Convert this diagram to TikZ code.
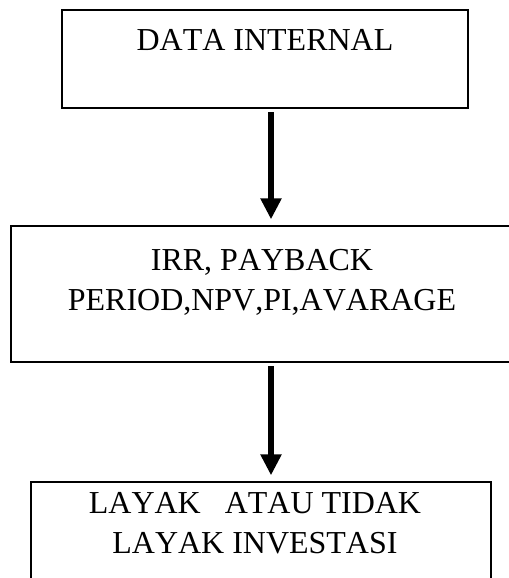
\documentclass[tikz,border=0pt]{standalone}
\usepackage{fontspec}
\setmainfont[Kerning=Off]{Liberation Serif}
\usetikzlibrary{arrows.meta}
\tikzset{
	kotak/.style={draw,line width=1.1pt,inner sep=0pt,outer sep=0pt,anchor=north west},
	tulisan/.style={font=\fontsize{27.3}{34.1}\selectfont,align=center,inner sep=0pt,anchor=north},
	panah/.style={line width=5.4pt,-{Triangle[length=0.63cm,width=0.6cm]},shorten <=0.13cm,shorten >=0.2cm}
}
\begin{document}
\begin{tikzpicture}[x=0.03cm,y=-0.03cm]
	\useasboundingbox (0,0) rectangle (509,578);
	\clip (0,0) rectangle (509,578);
	\node[kotak,minimum width=12.18cm,minimum height=2.94cm] (data) at (62,10) {};
	\node[kotak,minimum width=15.06cm,minimum height=4.08cm] (hitung) at (11,226) {};
	\node[kotak,minimum width=13.8cm,minimum height=4.08cm] (hasil) at (31,482) {};
	\node[tulisan] (tdata) at (265,29) {DATA INTERNAL};
	\node[tulisan] (thitung) at (262,249) {IRR, PAYBACK\\PERIOD,NPV,PI,AVARAGE};
	\node[tulisan] (thasil) at (255,492) {LAYAK\ \ \ ATAU TIDAK\\LAYAK INVESTASI};
	\coordinate (sumbu) at (271,0);
	\draw[panah] (data.south -| sumbu) -- (hitung.north -| sumbu);
	\draw[panah] (hitung.south -| sumbu) -- (hasil.north -| sumbu);
\end{tikzpicture}
\end{document}
